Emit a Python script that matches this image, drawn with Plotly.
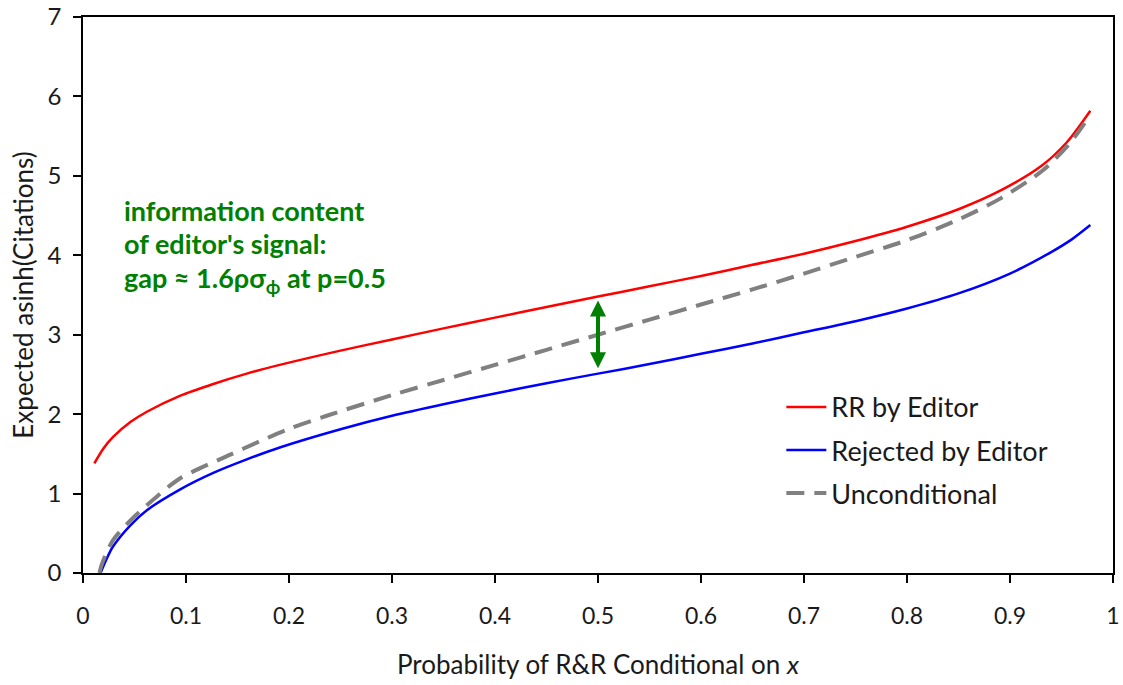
import plotly.graph_objects as go

# ---- data ----
red_x = [0.011, 0.02, 0.029, 0.046, 0.062, 0.094, 0.1265, 0.159, 0.191, 0.25, 0.3, 0.35, 0.4, 0.45,
         0.5, 0.55, 0.6, 0.65, 0.7, 0.75, 0.8, 0.85, 0.89, 0.93, 0.955, 0.978]
red_y = [1.38, 1.57, 1.71, 1.90, 2.03, 2.23, 2.38, 2.51, 2.62, 2.80, 2.94, 3.08, 3.215, 3.35,
         3.48, 3.61, 3.74, 3.88, 4.02, 4.18, 4.36, 4.58, 4.81, 5.12, 5.42, 5.82]

blue_x = [0.017, 0.023, 0.029, 0.046, 0.062, 0.094, 0.1265, 0.159, 0.191, 0.25, 0.3, 0.35, 0.4, 0.45,
          0.5, 0.55, 0.6, 0.65, 0.7, 0.75, 0.8, 0.85, 0.9, 0.94, 0.96, 0.978]
blue_y = [0.0, 0.18, 0.33, 0.60, 0.79, 1.05, 1.26, 1.43, 1.58, 1.81, 1.98, 2.125, 2.26, 2.39,
          2.51, 2.63, 2.76, 2.89, 3.03, 3.17, 3.33, 3.52, 3.77, 4.04, 4.20, 4.38]

gray_x = [0.016, 0.018, 0.029, 0.049, 0.0715, 0.094, 0.143, 0.172, 0.201, 0.2366, 0.3, 0.35, 0.4, 0.45,
          0.5, 0.55, 0.6, 0.65, 0.7, 0.75, 0.8, 0.85, 0.89, 0.932, 0.958, 0.976]
gray_y = [0.0, 0.10, 0.41, 0.70, 0.96, 1.19, 1.49, 1.66, 1.82, 1.98, 2.24, 2.43, 2.62, 2.81,
          3.00, 3.19, 3.38, 3.57, 3.77, 3.98, 4.19, 4.45, 4.71, 5.07, 5.41, 5.73]

x_ticks = [0, 0.1, 0.2, 0.3, 0.4, 0.5, 0.6, 0.7, 0.8, 0.9, 1]
x_ticklabels = ["0", "0.1", "0.2", "0.3", "0.4", "0.5", "0.6", "0.7", "0.8", "0.9", "1"]
y_ticks = [0, 1, 2, 3, 4, 5, 6, 7]

arrow_p = 0.5
arrow_top = 3.43
arrow_bottom = 2.56

note_lines = ["information content", "of editor's signal:",
              "gap ≈ 1.6ρσ<sub>ϕ</sub> at p=0.5"]
note_y = [4.56, 4.15, 3.69]

FONT = "Lato"
GREEN = "#008000"
TXT = "#1a1a1a"

fig = go.Figure()
fig.add_trace(go.Scatter(x=red_x, y=red_y, mode="lines", name="RR by Editor",
                         line=dict(color="#FF0000", width=2.5, shape="spline", smoothing=0.8),
                         legendgroup="a"))
fig.add_trace(go.Scatter(x=blue_x, y=blue_y, mode="lines", name="Rejected by Editor",
                         line=dict(color="#0000FF", width=2.5, shape="spline", smoothing=0.8),
                         legendgroup="b"))
fig.add_trace(go.Scatter(x=gray_x, y=gray_y, mode="lines", name="Unconditional",
                         line=dict(color="#808080", width=4, dash="18px,10px",
                                   shape="spline", smoothing=0.8),
                         legendgroup="c"))

for t, yy in zip(note_lines, note_y):
    fig.add_annotation(x=0.038, y=yy, xref="x", yref="y", text=t, showarrow=False,
                       xanchor="left", yanchor="middle",
                       font=dict(family=FONT, size=27, color=GREEN, weight="bold"))

# double-headed arrow
fig.add_annotation(x=arrow_p, y=arrow_top, ax=arrow_p, ay=arrow_bottom,
                   xref="x", yref="y", axref="x", ayref="y", text="",
                   showarrow=True, arrowhead=2, startarrowhead=2, arrowside="end+start",
                   arrowwidth=4, arrowsize=0.8, startarrowsize=0.8, arrowcolor=GREEN)

fig.update_layout(
    width=1123, height=685,
    margin=dict(l=83, r=10, t=17, b=112),
    paper_bgcolor="white", plot_bgcolor="white",
    font=dict(family=FONT, color=TXT, size=20),
    showlegend=True,
    legend=dict(x=0.678, y=0.342, xanchor="left", yanchor="top",
                font=dict(family=FONT, size=27, color=TXT),
                bgcolor="rgba(0,0,0,0)", tracegroupgap=5, traceorder="grouped",
                itemwidth=40),
)
fig.update_xaxes(range=[0, 1], tickvals=x_ticks, ticktext=x_ticklabels, automargin=False,
                 showline=True, linecolor="black", linewidth=1.5, mirror=True,
                 ticks="outside", ticklen=8, tickwidth=1.5, tickcolor="black",
                 showgrid=False, zeroline=False, ticklabelstandoff=14,
                 tickfont=dict(family=FONT, size=23, color=TXT),
                 title=dict(text="Probability of R&R Conditional on <i>x</i>",
                            font=dict(family=FONT, size=26, color=TXT), standoff=27))
fig.update_yaxes(range=[0, 7], tickvals=y_ticks, automargin=False,
                 showline=True, linecolor="black", linewidth=1.5, mirror=True,
                 ticks="outside", ticklen=8, tickwidth=1.5, tickcolor="black",
                 showgrid=False, zeroline=False, ticklabelstandoff=7,
                 tickfont=dict(family=FONT, size=24, color=TXT),
                 title=dict(text="Expected asinh(Citations)",
                            font=dict(family=FONT, size=26, color=TXT), standoff=6))

fig.write_html("out.html")
